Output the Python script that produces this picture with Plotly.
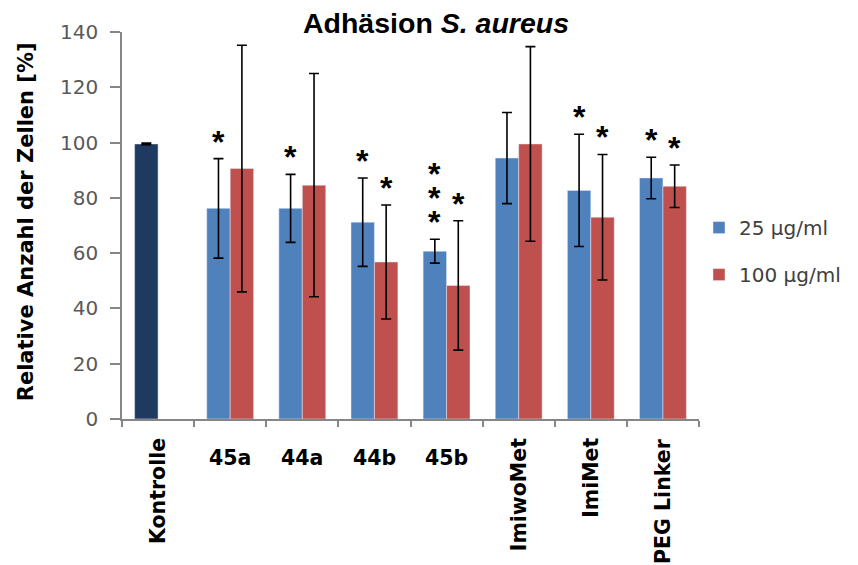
import plotly.graph_objects as go

categories = ["Kontrolle", "45a", "44a", "44b", "45b", "ImiwoMet", "ImiMet", "PEG Linker"]
control_value = [99.5]
control_err = [0.3]
vals_25 = [None, 76.2, 76.2, 71.2, 60.7, 94.4, 82.7, 87.2]
err_25 = [None, 18.0, 12.3, 16.0, 4.3, 16.5, 20.3, 7.5]
vals_100 = [None, 90.6, 84.6, 56.8, 48.3, 99.5, 73.0, 84.2]
err_100 = [None, 44.6, 40.4, 20.6, 23.4, 35.2, 22.7, 7.7]
sig_25 = [0, 1, 1, 1, 3, 0, 1, 1]
sig_100 = [0, 0, 0, 1, 1, 0, 1, 1]
y_ticks = [0, 20, 40, 60, 80, 100, 120, 140]

BLUE = "#4F81BD"
RED = "#C0504D"
NAVY = "#1F3A60"
AXIS = "#868686"
BARGAP = 0.35
half = (1 - BARGAP) / 4  # offset of each bar center from category center

# the page body has an 8px margin, so the figure is sized/offset to compensate
W, H = 850, 557

err_style = dict(type="data", color="black", thickness=1.6, width=5, visible=True)

fig = go.Figure()
fig.add_trace(go.Bar(
    x=categories[:1], y=control_value, marker_color=NAVY, offsetgroup="a",
    error_y=dict(array=control_err, **err_style), showlegend=False, hoverinfo="skip"))
fig.add_trace(go.Bar(
    x=categories, y=vals_25, name="25 µg/ml", marker_color=BLUE, offsetgroup="a",
    legendgroup="a", error_y=dict(array=err_25, **err_style)))
fig.add_trace(go.Bar(
    x=categories, y=vals_100, name="100 µg/ml", marker_color=RED, offsetgroup="b",
    legendgroup="b", error_y=dict(array=err_100, **err_style)))

annotations = []
# significance asterisks
for vals, errs, sigs, off in [(vals_25, err_25, sig_25, -half), (vals_100, err_100, sig_100, half)]:
    for i, (v, e, n) in enumerate(zip(vals, errs, sigs)):
        for k in range(n):
            annotations.append(dict(
                x=i + off, y=v + e, xref="x", yref="y", text="<b>*</b>", showarrow=False,
                font=dict(family="Liberation Sans", size=32, color="black"),
                yanchor="middle", xanchor="center", yshift=17 + 24 * k))

# category labels (short ones horizontal, long ones vertical)
for i, lab in enumerate(categories):
    vertical = len(lab) > 3
    annotations.append(dict(
        x=i, y=0, xref="x", yref="paper", text="<b>" + lab + "</b>", showarrow=False,
        textangle=-90 if vertical else 0, xanchor="center", yanchor="top",
        yshift=-17 if vertical else -25,
        font=dict(family="DejaVu Sans", size=20.5, color="black")))

# y axis title
annotations.append(dict(
    x=-0.167, y=0.51, xref="paper", yref="paper", text="<b>Relative Anzahl der Zellen [%]</b>",
    textangle=-90, showarrow=False, xanchor="center", yanchor="middle",
    font=dict(family="DejaVu Sans", size=21, color="black")))

fig.update_layout(
    width=W, height=H,
    margin=dict(l=114, r=157, t=21, b=146),
    paper_bgcolor="white", plot_bgcolor="white",
    barmode="group", bargap=BARGAP, bargroupgap=0,
    title=dict(text="<b>Adhäsion <i>S. aureus</i></b>", x=428 / W, xanchor="center",
               xref="container", yref="container", y=1 - 15 / H, yanchor="middle",
               font=dict(family="Liberation Sans", size=28.5, color="black")),
    xaxis=dict(type="category", showticklabels=False, ticks="outside", tickson="boundaries",
               ticklen=6, tickcolor=AXIS, tickwidth=1.5, showline=True, linecolor=AXIS,
               linewidth=1.5, showgrid=False, zeroline=False),
    yaxis=dict(range=[0, 140], tickvals=y_ticks, ticks="outside", ticklen=10, tickcolor=AXIS,
               tickwidth=1.5, showline=True, linecolor=AXIS, linewidth=1.5, showgrid=False,
               zeroline=False, ticklabelstandoff=8,
               tickfont=dict(family="DejaVu Sans", size=20, color="#595959")),
    legend=dict(x=1.0, y=0.545, xanchor="left", yanchor="top", traceorder="grouped",
                tracegroupgap=18, bgcolor="rgba(0,0,0,0)",
                font=dict(family="DejaVu Sans", size=20, color="#404040")),
    annotations=annotations,
    showlegend=True,
)

fig.write_html("out.html")
